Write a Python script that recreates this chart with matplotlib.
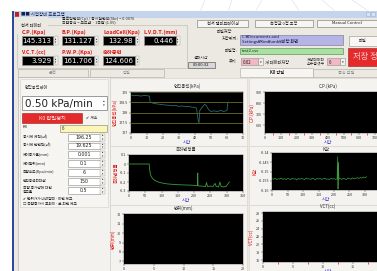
#!/usr/bin/env python
"""
Screenshot of the consolidation test program (K0 tab).
"""

import matplotlib
matplotlib.use('Agg')
import matplotlib.pyplot as plt
from matplotlib.lines import Line2D
from matplotlib.patches import Rectangle

plt.rcParams['font.family'] = ['Noto Sans CJK KR', 'DejaVu Sans']

W, H = 377, 271

# sensor readouts
sensor_names = ['C.P.(Kpa)', 'B.P.(Kpa)', 'LoadCell(Kpa)', 'L.V.D.T.(mm)',
                'V.C.T.(cc)', 'P.W.P.(Kpa)', '축하중력']
sensor_values = ['145.313', '131.127', '132.98', '0.446',
                 '3.929', '161.706', '124.606']

# K0 control parameters
param_names = ['공시체 체적(㎤)', '공시체 단면적(㎠)', '제어증가율(mm)', '제어범위(mm)',
               '측압속도(Kpa/min)', '연직응력최대값', '측압 증가량에 대한\n응고율']
param_values = ['196.25', '19.625', '0.001', '0.1', '6', '150', '0.5']

# vertical stress (kPa) vs time
sv_time = [0, 2, 4, 6, 8, 10, 11.5, 12, 14, 16, 18, 20, 22, 24, 26, 28, 30,
           32, 34, 36, 38, 40, 41, 42, 42.5, 43, 44, 45, 46, 47, 48, 49, 50,
           52, 54, 56, 58, 60, 60.5, 61]
sv_kpa = [128.85, 128.82, 128.84, 128.8, 128.83, 128.82, 128.8, 128.5,
          128.45, 128.42, 128.4, 128.38, 128.36, 128.35, 128.33, 128.34,
          128.3, 128.32, 128.28, 128.3, 128.26, 128.25, 128.2, 127.6, 127.5,
          128.1, 128.2, 128.3, 128.4, 128.35, 128.2, 128.1, 128.05, 128.08,
          128.05, 128.1, 128.05, 128.1, 128.5, 128.5]

# axial strain vs time
strain_time = [0, 10, 20, 30, 40, 50, 60, 62, 63, 66, 70, 75, 80, 90, 100,
               115, 130, 150, 170, 190, 205, 210, 211, 212, 215, 225, 235,
               238, 241, 250, 258, 264, 268, 275, 279, 283, 290, 298, 305, 308]
strain = [0, 0, 0, 0, 0, 0, 0, 0, -0.05, -0.12, -0.15, -0.17, -0.185, -0.2,
          -0.21, -0.22, -0.225, -0.23, -0.233, -0.235, -0.238, -0.24, -0.1,
          -0.24, -0.245, -0.245, -0.25, -0.205, -0.25, -0.245, -0.25, -0.215,
          -0.25, -0.255, -0.2, -0.25, -0.255, -0.25, -0.215, -0.2]

# K value vs time
k_time = [0, 5, 10, 15, 20, 25, 30, 35, 40, 45, 50, 55, 60, 65, 70, 75, 80,
          85, 90, 95, 100, 105, 110, 115, 120, 125, 130, 135, 140, 145, 150,
          155, 160, 165, 170, 175, 180, 185, 190, 195, 200, 205, 210, 212,
          213, 214, 216, 220, 225, 230, 235, 240, 245, 250, 255, 260, 265,
          270, 275, 280, 285, 290, 295, 300, 305]
k_val = [-0.1538, -0.1542, -0.1536, -0.1544, -0.1539, -0.1541, -0.1535,
         -0.1543, -0.1538, -0.1545, -0.1537, -0.1540, -0.1544, -0.1536,
         -0.1541, -0.1539, -0.1546, -0.1537, -0.1542, -0.1538, -0.1540,
         -0.1544, -0.1535, -0.1541, -0.1539, -0.1543, -0.1536, -0.1540,
         -0.1545, -0.1538, -0.1541, -0.1537, -0.1543, -0.1539, -0.1536,
         -0.1542, -0.1540, -0.1544, -0.1537, -0.1541, -0.1538, -0.1543,
         -0.1540, -0.1420, -0.1595, -0.1450, -0.1541, -0.1538, -0.1543,
         -0.1536, -0.1540, -0.1544, -0.1535, -0.1539, -0.1542, -0.1534,
         -0.1540, -0.1537, -0.1533, -0.1538, -0.1532, -0.1536, -0.1530,
         -0.1534, -0.1528]

RED = '#dd1111'
GREY = '#ece9e2'


def box(fig, x, y, w, h, fc, ec='none', lw=0.4, z=-5):
    """Draw a rectangle given in pixel coordinates from top-left."""
    fig.add_artist(Rectangle((x/W, 1-(y+h)/H), w/W, h/H, lw=lw, fc=fc,
                             ec=ec, transform=fig.transFigure, zorder=z))


def label(fig, x, y, s, size=3.2, color='#202020', ha='left', va='center',
          **kwargs):
    """Write text at a pixel position."""
    fig.text(x/W, 1-y/H, s, fontsize=size, color=color, ha=ha, va=va,
             **kwargs)


def chart(fig, x0, y0, x1, y1, title, ylabel, xlim, ylim, xticks, yticks,
          minor=None, tpad=3):
    """Add a black chart axes in pixel coordinates."""
    ax = fig.add_axes([x0/W, 1-y1/H, (x1-x0)/W, (y1-y0)/H])
    ax.set_facecolor('black')
    ax.set_xlim(*xlim)
    ax.set_ylim(*ylim)
    ax.set_xticks(xticks)
    ax.set_yticks(yticks)
    ax.set_xticklabels(['%g' % t for t in xticks])
    ax.set_yticklabels(['%g' % t for t in yticks])
    ax.tick_params(labelsize=2.7, length=1.5, width=0.3, pad=0.6,
                   colors='#303030')
    if minor is not None:
        ax.set_xticks(minor, minor=True)
        ax.tick_params(axis='x', which='minor', length=1.5, width=0.5,
                       colors=RED)
    for spine in ax.spines.values():
        spine.set_linewidth(0.3)
    ax.set_title(title, fontsize=3.2, pad=tpad, color='#303030')
    ax.set_ylabel(ylabel, fontsize=3.2, color=RED, labelpad=1)
    ax.set_xlabel('시간', fontsize=3.2, color='#3030c0', labelpad=0.2)
    return ax


def main():
    fig = plt.figure(figsize=(W/100, H/100), dpi=100, facecolor='white')

    # faint background lines above the window
    for xa, xb in [(205, 200), (232, 228), (262, 255), (292, 300),
                   (322, 336), (352, 370)]:
        fig.add_artist(Line2D([xa/W, xb/W], [1, 1-12/H], lw=0.4,
                              color='#dcdce8', transform=fig.transFigure))

    # window frame and title bar
    box(fig, 13, 11, 364, 260, GREY, z=-10)
    box(fig, 13, 11, 364, 7, '#c4d4ec', z=-9)
    box(fig, 12, 11, 1.5, 260, '#2c4a9a', z=-8)
    box(fig, 15, 12.5, 4, 4, '#c02020', z=-7)
    label(fig, 21, 14.5, '■■ 시험장비 프로그램', size=3.2, color='#102050')
    box(fig, 366, 12, 4, 4, '#d8e2f2', ec='#a0b0d0', z=-7)
    box(fig, 371, 12, 4, 4, '#d8e2f2', ec='#a0b0d0', z=-7)
    label(fig, 62, 18.5, '플로팅면적(Cp) / 총시험면적(Sbr) = 0.0076', size=2.8)
    label(fig, 62, 22, '측압공식 = 모드값 ~ 1측압 (1.05)', size=2.8)

    # top buttons
    for x0, x1, s in [(197, 248, '센서 캘리브레이션'), (255, 313, '측정값 0점 조정'),
                      (317, 377, 'Manual Control')]:
        box(fig, x0, 20, x1-x0, 7, '#f6f5f1', ec='#707070', z=-6)
        label(fig, (x0+x1)/2, 23.5, s, size=3, ha='center')

    # sensor data group
    box(fig, 17, 25, 170, 43, 'none', ec='#b8b6ae', z=-6)
    label(fig, 21, 25, '센서 데이터', size=3, backgroundcolor=GREY)
    cols = [21.5, 62, 103, 143.5]
    for i, (name, value) in enumerate(zip(sensor_names, sensor_values)):
        x = cols[i % 4]
        y = 32 if i < 4 else 52
        label(fig, x, y, name, size=3.8, color=RED, weight='bold')
        box(fig, x, y+4.5, 32, 8.5, 'black', ec='#909090', lw=0.6, z=-6)
        label(fig, x+30, y+8.8, value, size=5, color='white', ha='right',
              family='DejaVu Sans')
        box(fig, x+33, y+4.5, 3, 8.5, '#f2f1ec', ec='#a0a0a0', lw=0.3, z=-6)
        label(fig, x+34.5, y+8.8, '▴\n▾', size=1.8, ha='center',
              linespacing=0.8)

    # file saving block
    label(fig, 217, 32, '파일저장', size=3)
    label(fig, 238, 39.5, '저장위치:', size=3, ha='right')
    box(fig, 240, 35, 103, 10, '#b6b4e4', ec='#707090', z=-6)
    label(fig, 242, 37.5, 'C:₩Documents and', size=3, color='#101040')
    label(fig, 242, 42, 'Settings₩Kim₩umb₩바탕 화면', size=3, color='#101040')
    label(fig, 238, 51, '파일명:', size=3, ha='right')
    box(fig, 240, 48, 103, 6, '#a8e2a0', ec='#508050', z=-6)
    label(fig, 242, 51, 'test2.csv', size=3, color='#103010')
    box(fig, 349, 36, 30, 10, '#f8f7f3', ec='#909090', z=-6)
    label(fig, 363, 41, '파일', size=3, ha='center')
    box(fig, 348, 48, 32, 18, '#e42a2a', ec='#902020', z=-6)
    label(fig, 353, 57, '저장 정지', size=6, color='#ffd0d0', ha='left')

    # elapsed time and saving period
    label(fig, 201, 58, '경과시간', size=2.8, ha='center')
    box(fig, 188, 62, 27, 6, '#d8d8d8', ec='#404040', z=-6)
    label(fig, 201.5, 65, '00:00:32', size=3, ha='center', color='#101010')
    label(fig, 229, 62, '주기', size=3)
    box(fig, 241, 58.5, 17, 7, '#f4b8c2', ec='#909090', z=-6)
    label(fig, 243, 62, '0.02', size=3.2)
    box(fig, 258, 58.5, 5, 7, '#f2f1ec', ec='#909090', z=-6)
    label(fig, 260.5, 62, '▾', size=2.5, ha='center')
    label(fig, 265, 62, '개 데이터저장', size=3)
    label(fig, 316, 59.5, '저장데이터', size=2.8, ha='center')
    label(fig, 316, 63.5, '소수점갯수', size=2.8, ha='center')
    box(fig, 327, 58.5, 13, 7, '#f4b8c2', ec='#909090', z=-6)
    label(fig, 329, 62, '6', size=3.2)
    box(fig, 340, 58.5, 5, 7, '#f2f1ec', ec='#909090', z=-6)
    label(fig, 342.5, 62, '▾', size=2.5, ha='center')

    # tabs
    for x0, x1, s, sel in [(18, 88, '운전', False), (90, 164, '압밀', False),
                           (240, 313, 'K0 압밀', True),
                           (313, 380, '등속 압밀', False)]:
        box(fig, x0, 68 if sel else 69.5, x1-x0, 8.5 if sel else 7.5,
            '#f6f5f2' if sel else GREY, ec='#a8a8a0', z=-6)
        label(fig, (x0+x1)/2, 73, s, size=3, ha='center',
              color='#202020' if sel else '#8a8a8a',
              weight='bold' if sel else 'normal')

    # left control panel
    box(fig, 18, 77, 92, 194, '#f3f2ee', ec='#b0aea6', z=-7)
    box(fig, 20, 79, 88, 128, '#f6f5f2', ec='#d0cec6', z=-6)
    label(fig, 25, 87, '연직응력제어', size=3)
    box(fig, 22, 96, 85, 14, 'white', ec='#8a8a8a', lw=0.6, z=-5)
    label(fig, 25, 103.5, '0.50 kPa/min', size=7.5, family='DejaVu Sans',
          color='#202020')
    label(fig, 104, 103, '▴\n▾', size=2.5, ha='center', linespacing=0.8)
    box(fig, 22, 113, 60, 10, '#e42a2a', ec='#902020', z=-5)
    label(fig, 52, 118, 'K0 압밀정지', size=3.8, color='#ffe0e0', ha='center')
    label(fig, 86, 118, '✔ 계속', size=2.8)
    label(fig, 23, 127.5, 'K0', size=3)
    box(fig, 60, 124.5, 47, 7.5, '#fbf6b8', ec='#808060', z=-5)
    label(fig, 62, 128, '6', size=3.2)
    rows = [137, 145.5, 154, 163, 172, 181, 190]
    for name, value, y in zip(param_names, param_values, rows):
        label(fig, 23, y, name, size=2.7, linespacing=1.0)
        box(fig, 68, y-3, 32, 6.5, 'white', ec='#8a8a8a', z=-5)
        label(fig, 84, y+0.2, value, size=3.4, ha='center',
              family='DejaVu Sans')
        box(fig, 100, y-3, 4.5, 6.5, '#f2f1ec', ec='#a0a0a0', lw=0.3, z=-5)
        label(fig, 102.2, y+0.2, '▴\n▾', size=1.8, ha='center',
              linespacing=0.8)
    label(fig, 23, 199, '✔ 변위가가 내려갈때 - 이면 체크', size=2.7)
    label(fig, 23, 204, '☐ 측압증가시 포화이 - 로 되면 체크', size=2.7)

    # chart panels
    for x0, y0, x1, y1 in [(110, 78, 247, 146), (249, 78, 380, 146),
                           (110, 146, 247, 205), (249, 146, 380, 205),
                           (110, 205, 247, 275), (249, 205, 380, 275)]:
        box(fig, x0, y0, x1-x0, y1-y0, '#f4f3f0', ec='#d4d2ca', z=-6)

    ax = chart(fig, 131, 92, 243, 133, '연직응력(kPa)', '연직응력(kPa)',
               (0, 70), (127, 129), list(range(0, 71, 10)),
               [127, 127.5, 128, 128.5, 129])
    ax.grid(axis='y', color='#6e6e1e', lw=0.6)
    ax.plot(sv_time, sv_kpa, color='#2f6a6a', lw=0.6)

    chart(fig, 265, 92, 390.6, 133, 'C.P.(kPa)', 'C.P.(kPa)', (0, 800),
          (530, 900), list(range(0, 701, 100)), [600, 700, 800, 900],
          minor=list(range(50, 751, 50)))

    ax = chart(fig, 129, 155, 243, 191, '축하변형률', '축하변형률', (0, 350),
               (-0.3, 0.1), list(range(0, 351, 50)),
               [-0.3, -0.2, -0.1, 0, 0.1])
    ax.plot(strain_time, strain, color='#3c9c3c', lw=0.6)

    ax = chart(fig, 272, 153, 380.5, 190, 'K값', 'K값', (0, 350),
               (-0.16, -0.14), list(range(0, 301, 50)),
               [-0.16, -0.155, -0.15, -0.145, -0.14], tpad=1.5)
    ax.plot(k_time, k_val, color='#3c9c3c', lw=0.5)

    chart(fig, 124, 214, 243, 264, '변위(mm)', '변위(mm)', (0, 20),
          (6.7, 12.05), [0, 5, 10, 15, 20], [7, 8, 9, 10, 11, 12])

    chart(fig, 263, 212, 392, 262, 'VCT(cc)', 'VCT(cc)', (0, 21.5),
          (15.5, 28.3), [0, 5, 10, 15, 20], [16, 18, 20, 22, 24, 26, 28],
          minor=[2.5, 7.5, 12.5, 17.5])

    fig.savefig('out.png', dpi=100, facecolor='white')


if __name__ == '__main__':
    main()
